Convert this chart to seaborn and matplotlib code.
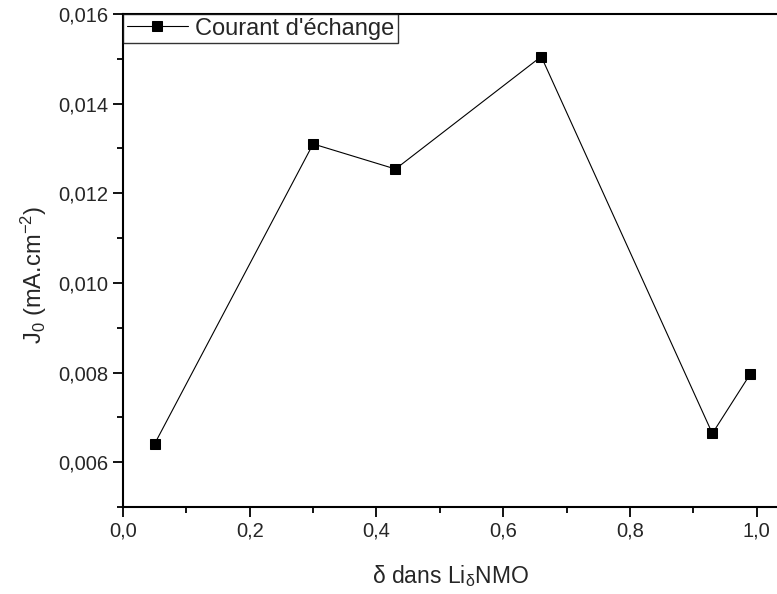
import numpy as np
import pandas as pd
import matplotlib
matplotlib.use('Agg')
import matplotlib.pyplot as plt
import seaborn as sns
from matplotlib.ticker import FuncFormatter, MultipleLocator

delta = [0.05, 0.30, 0.43, 0.66, 0.93, 0.99]
j0 = [0.00641, 0.01310, 0.01254, 0.01505, 0.00664, 0.00797]

df = pd.DataFrame({'delta': delta, 'j0': j0})

sns.set_style('ticks')
plt.rcParams['font.family'] = ['Liberation Sans', 'DejaVu Sans']
plt.rcParams['mathtext.default'] = 'regular'

fig = plt.figure(figsize=(7.77, 5.94), dpi=100)
ax = fig.add_axes([0.1583, 0.1465, 0.8417, 0.83])

sns.lineplot(data=df, x='delta', y='j0', ax=ax, color='black', linewidth=0.8,
             marker='s', markersize=7, markeredgecolor='black',
             label="Courant d'échange")

ax.set_xlim(0, 1.032)
ax.set_ylim(0.005, 0.016)
ax.xaxis.set_major_locator(MultipleLocator(0.2))
ax.xaxis.set_minor_locator(MultipleLocator(0.1))
ax.yaxis.set_major_locator(MultipleLocator(0.002))
ax.yaxis.set_minor_locator(MultipleLocator(0.001))
ax.xaxis.set_major_formatter(FuncFormatter(lambda v, p: f'{v:.1f}'.replace('.', ',')))
ax.yaxis.set_major_formatter(FuncFormatter(lambda v, p: f'{v:.3f}'.replace('.', ',')))

ax.tick_params(which='major', direction='out', length=7.5, width=1.3, labelsize=14.5,
               color='black', pad=3)
ax.tick_params(which='minor', direction='out', length=4.3, width=1.3, color='black')
ax.tick_params(top=False, right=False, which='both')

for s in ['left', 'bottom', 'top']:
    ax.spines[s].set_linewidth(1.5)
    ax.spines[s].set_color('black')
ax.spines['right'].set_visible(False)

ax.set_xlabel('δ dans Li$_δ$NMO', fontsize=16.5, labelpad=16)
ax.set_ylabel('J$_0$ (mA.cm$^{-2}$)', fontsize=17)
ax.yaxis.set_label_coords(-0.113, 0.47)

leg = ax.legend(loc='upper left', bbox_to_anchor=(0, 1), borderaxespad=0,
                fontsize=17, frameon=True, fancybox=False, handlelength=2.6,
                handletextpad=0.3, borderpad=0.15)
leg.get_frame().set_edgecolor('black')
leg.get_frame().set_linewidth(1.0)

fig.savefig('out.png', dpi=100)
